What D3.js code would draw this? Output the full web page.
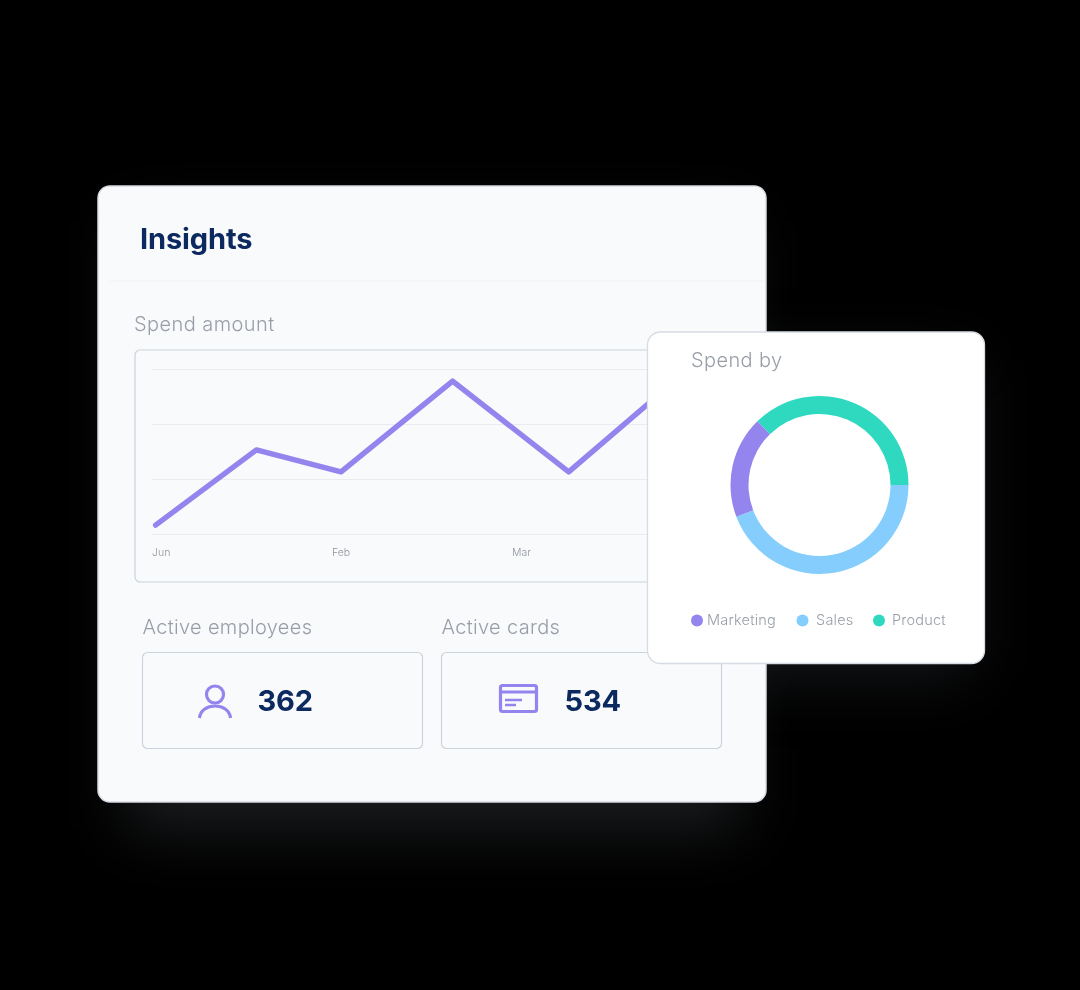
<!DOCTYPE html>
<html><head><meta charset="utf-8">
<script src="https://cdnjs.cloudflare.com/ajax/libs/d3/7.8.5/d3.min.js"></script>
<style>html,body{margin:0;padding:0;background:#000;overflow:hidden}svg{display:block;will-change:opacity,transform}text{font-family:Inter,"Noto Sans",sans-serif}</style>
</head><body><svg id="c" width="1080" height="990"></svg>
<script>
// Data
const months = ["Jun","Feb","Mar","Apr"];
const monthPos = [0,1,2,3];
const lineX = [0.02,0.58,1.05,1.67,2.315,2.95];
const lineY = [16,153,113,278,113,291];
const yTicks = [0,100,200,300];
const donutLabels = ["Product","Sales","Marketing"];
const donutValues = [37.3,44.2,18.5];
const donutColors = ["#2fd9c0","#84cdfd","#9484ee"];
const legendOrder = ["Marketing","Sales","Product"];
const stats = [{label:"Active employees",value:"362"},{label:"Active cards",value:"534"}];

const svg = d3.select("#c");
const defs = svg.append("defs");
const glow = defs.append("filter").attr("id","glow").attr("filterUnits","userSpaceOnUse")
  .attr("x",0).attr("y",0).attr("width",1080).attr("height",990).attr("color-interpolation-filters","sRGB");
glow.append("feGaussianBlur").attr("stdDeviation",30);

const navy="#0c2a60", grey="#989ea7", border="#ccd3da", panel="#f9fafc", purple="#9484ee";

// glows
svg.append("rect").attr("x",125).attr("y",220).attr("width",615).attr("height",610).attr("rx",12).attr("fill","#1a1c1e").attr("filter","url(#glow)");
svg.append("rect").attr("x",680).attr("y",360).attr("width",290).attr("height",315).attr("rx",12).attr("fill","#15171a").attr("filter","url(#glow)");

// main panel
svg.append("rect").attr("x",98).attr("y",186).attr("width",668).attr("height",616).attr("rx",12)
  .attr("fill",panel).attr("stroke","#d6dce2").attr("stroke-width",1.5);
svg.append("line").attr("x1",110).attr("x2",765).attr("y1",281).attr("y2",281).attr("stroke","#f4f5f8").attr("stroke-width",1.5);
svg.append("text").attr("x",140).attr("y",248.5).attr("font-size",29).attr("font-weight",700).attr("fill",navy).attr("letter-spacing",-0.12).text("Insights");
svg.append("text").attr("x",134).attr("y",331).attr("font-size",20).attr("font-weight",300).attr("fill",grey).attr("letter-spacing",0.42).text("Spend amount");

// line chart box
svg.append("rect").attr("x",135).attr("y",350).attr("width",600).attr("height",232).attr("rx",5).attr("fill",panel).attr("stroke",border).attr("stroke-width",1.2);
const x = d3.scaleLinear().domain([0,3]).range([152,692]);
const y = d3.scaleLinear().domain([0,300]).range([534,369]);
svg.append("g").selectAll("line").data(yTicks).join("line")
  .attr("x1",152).attr("x2",720).attr("y1",d=>y(d)+0.5).attr("y2",d=>y(d)+0.5).attr("stroke","#e9ecf0").attr("stroke-width",1);
svg.append("g").selectAll("text").data(monthPos).join("text")
  .attr("x",d=>x(d)).attr("y",556).attr("font-size",10.5).attr("font-weight",300).attr("fill","#8f959d").text(d=>months[d]);
const line = d3.line().x(d=>x(d[0])).y(d=>y(d[1])).curve(d3.curveLinear);
svg.append("path").attr("d",line(lineX.map((v,i)=>[v,lineY[i]]))).attr("fill","none").attr("stroke",purple)
  .attr("stroke-width",5.4).attr("stroke-linecap","round").attr("stroke-linejoin","round");

// stat cards
const cardX = d3.scaleOrdinal().domain(stats.map(d=>d.label)).range([142.5,441.5]);
const g = svg.append("g").selectAll("g").data(stats).join("g").attr("transform",d=>`translate(${cardX(d.label)},0)`);
g.append("text").attr("x",0).attr("y",633.5).attr("font-size",20).attr("font-weight",300).attr("fill",grey).attr("letter-spacing",0.33).text(d=>d.label);
g.append("rect").attr("y",652.5).attr("width",280).attr("height",96).attr("rx",5).attr("fill",panel).attr("stroke",border).attr("stroke-width",1.2);
g.append("text").attr("x",(d,i)=>i?123:115).attr("y",711).attr("font-size",29).attr("font-weight",700).attr("fill",navy).attr("letter-spacing",-0.15).text(d=>d.value);

// person icon
const icon = svg.append("g").attr("fill","none").attr("stroke",purple).attr("stroke-width",3.2);
icon.append("circle").attr("cx",215).attr("cy",694.5).attr("r",8.5);
icon.append("path").attr("d","M199.5 718 C201 702 229 702 230.5 718");
// card icon
icon.append("rect").attr("x",500.5).attr("y",685.5).attr("width",36).attr("height",26).attr("rx",2);
icon.append("line").attr("x1",500).attr("x2",537).attr("y1",692).attr("y2",692);
icon.append("path").attr("d","M505 700 H522 M505 705 H516").attr("stroke-width",2.4);

// donut card
svg.append("rect").attr("x",647.5).attr("y",332).attr("width",337).attr("height",331.5).attr("rx",13)
  .attr("fill","#fff").attr("stroke","#d6dce2").attr("stroke-width",1.3);
svg.append("text").attr("x",691).attr("y",367).attr("font-size",20).attr("font-weight",300).attr("fill",grey).attr("letter-spacing",0.38).text("Spend by");
const startA = Math.PI/2 - 2*Math.PI*(donutValues[0]/100);
const pie = d3.pie().sort(null).value(d=>d).startAngle(startA).endAngle(startA+2*Math.PI);
const arc = d3.arc().innerRadius(71).outerRadius(89);
svg.append("g").attr("transform","translate(819.5,485)").selectAll("path").data(pie(donutValues)).join("path")
  .attr("d",arc).attr("fill",(d,i)=>donutColors[i]);

// legend
const legendDot = d3.scaleOrdinal().domain(legendOrder).range([697,802.5,879]);
const legendText = d3.scaleOrdinal().domain(legendOrder).range([707,816,892]);
const lg = svg.append("g").selectAll("g").data(legendOrder).join("g");
lg.append("circle").attr("cx",d=>legendDot(d)).attr("cy",620.5).attr("r",6).attr("fill",d=>donutColors[donutLabels.indexOf(d)]);
lg.append("text").attr("x",d=>legendText(d)).attr("y",625).attr("font-size",14.5).attr("font-weight",300).attr("fill",grey).attr("letter-spacing",0.22).text(d=>d);
</script></body></html>
